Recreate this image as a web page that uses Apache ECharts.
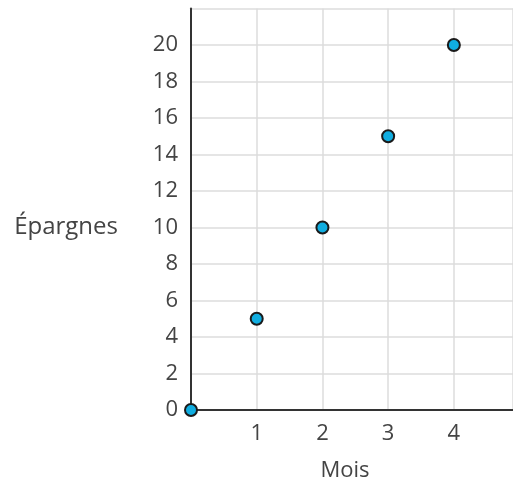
<!DOCTYPE html>
<html>
<head>
<meta charset="utf-8">
<script src="https://cdn.jsdelivr.net/npm/echarts@6/dist/echarts.min.js"></script>
<style>
  html, body { margin: 0; padding: 0; background: #fff; }
  #chart { width: 513px; height: 482px; }
</style>
</head>
<body>
<div id="chart"></div>
<script>
// data
const months = [0, 1, 2, 3, 4];
const savings = [0, 5, 10, 15, 20];

const FONT = "'Open Sans', 'Noto Sans', sans-serif";
const TEXT_COLOR = '#444';

const myChart = echarts.init(document.getElementById('chart'));

const option = {
  animation: false,
  grid: { left: 191, right: 0, top: 8.5, bottom: 72, outerBoundsMode: 'none', containLabel: false },
  xAxis: {
    type: 'value',
    min: 0,
    max: 4.9,
    interval: 1,
    name: 'Mois',
    nameLocation: 'middle',
    nameGap: 50,
    nameTextStyle: { fontFamily: FONT, fontSize: 22, color: TEXT_COLOR, padding: [0, 14, 0, 0] },
    axisLine: { lineStyle: { color: '#333', width: 2 } },
    axisTick: { show: false },
    axisLabel: {
      fontFamily: FONT, fontSize: 22, color: TEXT_COLOR, margin: 13,
      formatter: v => (v > 0 && Number.isInteger(v)) ? String(v) : ''
    },
    splitLine: { show: true, lineStyle: { color: '#dcdcdc', width: 1.5 } }
  },
  yAxis: {
    type: 'value',
    min: 0,
    max: 22,
    interval: 2,
    name: 'Épargnes',
    nameLocation: 'middle',
    nameRotate: 0,
    nameGap: 73,
    nameTextStyle: { fontFamily: FONT, fontSize: 24, color: TEXT_COLOR, verticalAlign: 'top', padding: [6, 0, 0, 0] },
    axisLine: { show: true, lineStyle: { color: '#333', width: 2 } },
    axisTick: { show: false },
    axisLabel: {
      fontFamily: FONT, fontSize: 22, color: TEXT_COLOR, margin: 13,
      formatter: v => v <= 20 ? String(v) : ''
    },
    splitLine: { show: true, lineStyle: { color: '#dcdcdc', width: 1.5 } }
  },
  series: [{
    type: 'scatter',
    data: months.map((m, i) => [m, savings[i]]),
    symbol: 'circle',
    symbolSize: 12,
    clip: false,
    z: 10,
    itemStyle: { color: '#10ade0', borderColor: '#1a1a1a', borderWidth: 2, opacity: 1 }
  }]
};

myChart.setOption(option);
</script>
</body>
</html>
